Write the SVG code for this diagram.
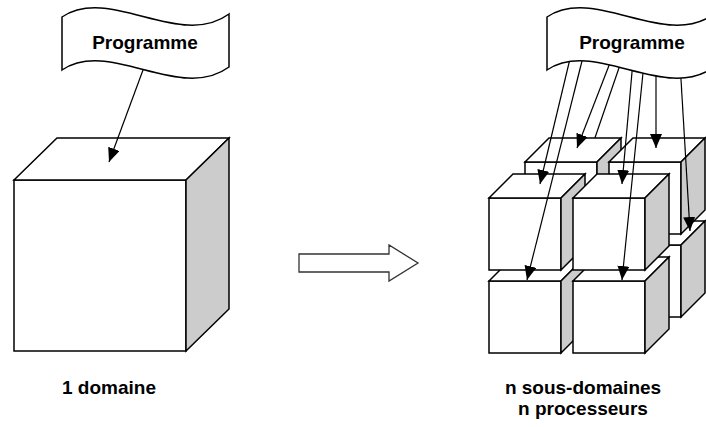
<svg xmlns="http://www.w3.org/2000/svg" xmlns:xlink="http://www.w3.org/1999/xlink" width="706" height="427" viewBox="0 0 706 427">
  <style>
    .face { fill: #ffffff; stroke: #000000; stroke-width: 1.5; stroke-linejoin: miter; }
    .side { fill: #cccccc; stroke: #000000; stroke-width: 1.5; stroke-linejoin: miter; }
    .flag { fill: #ffffff; stroke: #000000; stroke-width: 1.5; }
    .link { fill: none; stroke: #000000; stroke-width: 1.2; marker-end: url(#head); }
    .hollow { fill: #ffffff; stroke: #333333; stroke-width: 1.3; }
    .lbl { font-family: "Liberation Sans", Arial, sans-serif; font-weight: bold; font-size: 19px; fill: #000000; }
  </style>
  <defs>
    <marker id="head" markerUnits="userSpaceOnUse" markerWidth="15" markerHeight="12" refX="14" refY="6" orient="auto">
      <path d="M0,0 L14,6 L0,12 Z" fill="#000000"/>
    </marker>
    <!-- small cube: front face at origin, 72 wide, depth offset (24,-24) -->
    <g id="cube-s">
      <rect class="face" x="0" y="0" width="72" height="72"/>
      <polygon class="face" points="0,0 24,-24 96,-24 72,0"/>
      <polygon class="side" points="72,0 96,-24 96,48 72,72"/>
    </g>
    <path id="flag-shape" d="M62,17 C110,-15 180,50 229,14 L229,67 C180,103 110,38 62,70 Z"/>
  </defs>

  <!-- single domain -->
  <g id="domain">
    <rect class="face" x="14" y="180" width="172" height="171"/>
    <polygon class="face" points="14,180 57,138 229,138 186,180"/>
    <polygon class="side" points="186,180 229,138 229,309 186,351"/>
  </g>

  <!-- hidden link to the back lower-left block, drawn before the blocks cover it -->
  <g id="links-hidden">
    <line class="link" x1="622.4" y1="58" x2="566" y2="222"/>
  </g>

  <!-- sub-domains: back layer first, then front layer -->
  <g id="sub-back-bottom-left"><use xlink:href="#cube-s" x="525" y="245"/></g>
  <g id="sub-back-bottom-right"><use xlink:href="#cube-s" x="609" y="245"/></g>
  <g id="sub-back-top-left"><use xlink:href="#cube-s" x="525" y="162"/></g>
  <g id="sub-back-top-right"><use xlink:href="#cube-s" x="609" y="162"/></g>
  <g id="sub-front-bottom-left"><use xlink:href="#cube-s" x="489" y="281"/></g>
  <g id="sub-front-bottom-right"><use xlink:href="#cube-s" x="573" y="281"/></g>
  <g id="sub-front-top-left"><use xlink:href="#cube-s" x="489" y="198"/></g>
  <g id="sub-front-top-right"><use xlink:href="#cube-s" x="573" y="198"/></g>

  <!-- connectors -->
  <g id="links">
    <line class="link" x1="146.7" y1="60" x2="109" y2="162"/>
    <line class="link" x1="570.9" y1="55" x2="540" y2="184"/>
    <line class="link" x1="583.5" y1="55" x2="527" y2="280"/>
    <line class="link" x1="611.9" y1="58" x2="577" y2="148"/>
    <line class="link" x1="633.1" y1="60" x2="622" y2="184"/>
    <line class="link" x1="644.1" y1="62" x2="622" y2="280"/>
    <line class="link" x1="656" y1="62" x2="656" y2="148"/>
    <line class="link" x1="680.2" y1="66" x2="690" y2="231"/>
  </g>

  <!-- program banners -->
  <g id="program-left">
    <use xlink:href="#flag-shape" class="flag"/>
    <text class="lbl" x="145" y="49" text-anchor="middle">Programme</text>
  </g>
  <g id="program-right">
    <use xlink:href="#flag-shape" class="flag" x="485"/>
    <text class="lbl" x="632" y="49" text-anchor="middle">Programme</text>
  </g>

  <!-- transition arrow -->
  <g id="transition">
    <polygon class="hollow" points="299,254 389,254 389,245 418,263 389,281 389,272 299,272"/>
  </g>

  <!-- captions -->
  <g id="caption-left">
    <text class="lbl" x="62" y="394">1 domaine</text>
  </g>
  <g id="caption-right">
    <text class="lbl" x="583" y="394" text-anchor="middle">n sous-domaines</text>
    <text class="lbl" x="583" y="415" text-anchor="middle">n processeurs</text>
  </g>
</svg>
